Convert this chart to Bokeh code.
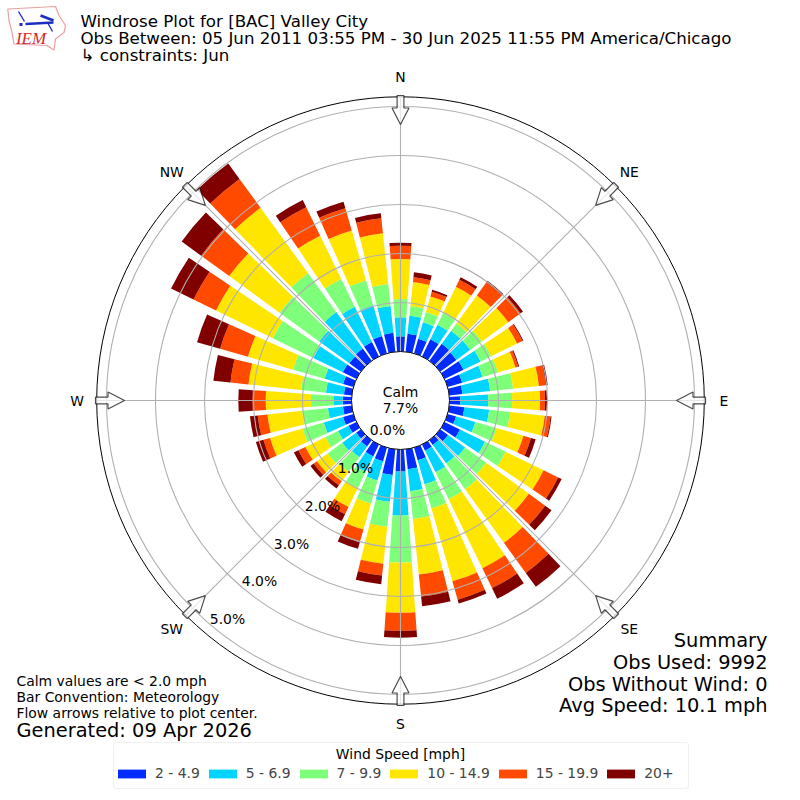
import numpy as np
from bokeh.plotting import figure
from bokeh.models import Legend, LegendItem, BoxAnnotation, ColumnDataSource
from bokeh.core.properties import value
from bokeh.embed import file_html
from bokeh.resources import INLINE

directions = list(range(0, 360, 10))
band_labels = ["2 - 4.9", "5 - 6.9", "7 - 9.9", "10 - 14.9", "15 - 19.9", "20+"]
band_colors = ["#002cff", "#00d4ff", "#7dff7a", "#ffe600", "#ff4a00", "#800000"]
pct_2_5 = [.31,.37,.31,.39,.43,.41,.43,.31,.27,.22,.31,.18,.35,.20,.12,.14,.27,.41,.45,.53,.29,.27,.16,.12,.18,.22,.18,.18,.16,.22,.31,.29,.31,.33,.37,.39]
pct_5_7 = [.39,.37,.35,.33,.33,.35,.39,.43,.57,.57,.51,.41,.57,.43,.47,.49,.51,.45,.90,.55,.41,.35,.27,.35,.24,.41,.31,.18,.37,.39,.67,.76,.92,.80,.65,.55]
pct_7_10 = [.37,.20,.22,.27,.18,.29,.24,.33,.47,.49,.43,.45,.47,.53,.65,.61,.51,.57,.96,.51,.49,.37,.37,.37,.29,.45,.53,.47,.51,.67,.92,1.0,.98,.63,.53,.45]
pct_10_15 = [.82,.49,.33,.59,.71,.67,.59,.37,.53,.57,.71,.57,.86,1.08,1.35,1.57,1.55,1.14,1.02,.76,.55,.43,.24,.27,.45,.69,.71,.92,1.08,.96,1.29,1.27,1.65,.98,1.06,1.04]
pct_15_20 = [.27,.10,.10,.16,.33,.31,.12,.06,.14,.10,.12,.16,.33,.41,.76,.45,.39,.45,.37,.24,.27,.16,.10,.08,.16,.14,.20,.27,.37,.59,.51,.71,.73,.65,.47,.31]
pct_20 = [.06,.10,.04,.06,.04,.06,.02,.02,.04,.04,.02,.10,.08,.16,.35,.24,.08,.20,.14,.18,.14,.16,.08,.08,.10,.16,.16,.29,.35,.49,.51,.49,.39,.16,.14,.10]
bands = [pct_2_5, pct_5_7, pct_7_10, pct_10_15, pct_15_20, pct_20]
compass_labels = ["N", "NE", "E", "SE", "S", "SW", "W", "NW"]
radial_ticks = [0, 1, 2, 3, 4, 5]
calm_pct = 7.7

# One percent of frequency is one data unit; the 0% ring sits at radius 1.
PX = 49.0
BASE = 1.0
RMAX = 6.2
W = 800
HALF = W / 2 / PX


def px(x, y):
    return (x - 400) / PX, (400 - y) / PX


p = figure(width=W, height=W, x_range=(-HALF, HALF), y_range=(-HALF, HALF),
           output_backend="svg", toolbar_location=None, min_border=0,
           background_fill_color="white", border_fill_color="white",
           outline_line_color=None)
p.axis.visible = False
p.grid.visible = False

# Bars
theta = 90 - np.array(directions, dtype=float)
half = 4.0
inner = np.full(len(directions), BASE)
items = []
for lab, col, vals in zip(band_labels, band_colors, bands):
    outer = inner + np.array(vals)
    src = ColumnDataSource(dict(r0=inner, r1=outer,
                                a0=np.radians(theta - half), a1=np.radians(theta + half)))
    r = p.annular_wedge(x=0, y=0, inner_radius="r0", outer_radius="r1",
                        start_angle="a0", end_angle="a1", source=src,
                        fill_color=col, line_color=None)
    items.append(LegendItem(label=lab, renderers=[r]))
    inner = outer

# Grid
GRID = "#b0b0b0"
for t in radial_ticks[1:]:
    p.circle(x=0, y=0, radius=BASE + t, fill_color=None, line_color=GRID, line_width=1.1)
ang = np.radians(90 - np.arange(0, 360, 45))
p.segment(x0=0, y0=0, x1=RMAX * np.cos(ang), y1=RMAX * np.sin(ang), line_color=GRID, line_width=1.1)

# Flow arrows
tail, neck, tip = 305.0 / PX, 292.5 / PX, 276.0 / PX
sw, hw = 3.4 / PX, 8.5 / PX
xs, ys = [], []
for a in ang:
    along = np.array([tail, neck, neck, tip, neck, neck, tail])
    across = np.array([sw, sw, hw, 0, -hw, -sw, -sw])
    xs.append(list(along * np.cos(a) - across * np.sin(a)))
    ys.append(list(along * np.sin(a) + across * np.cos(a)))

p.circle(x=0, y=0, radius=RMAX, fill_color=None, line_color="black", line_width=1.0)
p.patches(xs, ys, fill_color="white", fill_alpha=0.7, line_color="black", line_alpha=0.7, line_width=1.2)

# Centre disc
p.circle(x=0, y=0, radius=BASE, fill_color="white", line_color="black", line_width=1.0)


def put(x, y, s, size, align="left", color="black", font="DejaVu Sans", style="normal"):
    X, Y = px(x, y)
    p.text(x=[X], y=[Y], text=[s], text_font=value(font), text_font_size=f"{size}px",
           text_align=align, text_baseline="middle", text_color=color, text_font_style=style)


# Compass labels
for lab, a in zip(compass_labels, ang):
    X, Y = 323.5 / PX * np.cos(a), 323.5 / PX * np.sin(a)
    p.text(x=[X], y=[Y], text=[lab], text_font=value("DejaVu Sans"), text_font_size="13.9px",
           text_align="center", text_baseline="middle", text_color="black")

# Radial labels
for t, (lx, ly) in zip(radial_ticks, [(387, 429), (355, 467), (322, 505), (291, 543), (259, 580), (227, 618)]):
    put(lx, ly, f"{t:.1f}%", 13.9, "center")

put(400, 391, "Calm", 13.9, "center")
put(400, 407, f"{calm_pct}%", 13.9, "center")

# Titles
put(80, 21, "Windrose Plot for [BAC] Valley City", 16.66)
put(80, 38, "Obs Between: 05 Jun 2011 03:55 PM - 30 Jun 2025 11:55 PM America/Chicago", 16.66)
put(80, 55, " \u21b3 constraints: Jun", 16.66)

# Notes
put(16, 680, "Calm values are < 2.0 mph", 13.9)
put(16, 696, "Bar Convention: Meteorology", 13.9)
put(16, 712, "Flow arrows relative to plot center.", 13.9)
put(16, 730, "Generated: 09 Apr 2026", 19.4)
put(767, 640, "Summary", 19.4, "right")
put(767, 662, "Obs Used: 9992", 19.4, "right")
put(767, 684, "Obs Without Wind: 0", 19.4, "right")
put(767, 705, "Avg Speed: 10.1 mph", 19.4, "right")

# Logo
lx = [7.3, 55, 58.5, 65, 63.5, 55, 53.5, 46.5, 13.5, 11.5, 8.5]
ly = [8.5, 6, 15, 25, 32, 38.5, 49.5, 45, 43.5, 32, 20]
X, Y = zip(*[px(a, b) for a, b in zip(lx, ly)])
p.patch(list(X), list(Y), fill_color="white", line_color="#e8a0a0", line_width=1.2)
for (x0, y0, x1, y1, w) in [(25, 23.5, 53, 22, 2.6), (18, 11, 24, 21, 1.4),
                            (40, 15, 53, 20, 2.8), (47, 22, 52, 31, 1.4), (19, 24, 22, 24, 3)]:
    a0, b0 = px(x0, y0)
    a1, b1 = px(x1, y1)
    p.line([a0, a1], [b0, b1], line_color="#1c2fc0", line_width=w)
put(30.5, 38, "IEM", 17, "center", "#d62828", "Liberation Serif", "italic")

# Legend
a0, b0 = px(113, 788)
a1, b1 = px(688, 742)
p.add_layout(BoxAnnotation(left=a0, right=a1, bottom=b0, top=b1, fill_alpha=0,
                           line_color="#cccccc", line_width=1.1, border_radius=3))
leg = Legend(items=items, orientation="horizontal", location=(114, 17), margin=0, padding=2,
             spacing=5, label_standoff=6, glyph_width=35, glyph_height=11, label_height=20,
             label_text_font="DejaVu Sans", label_text_font_size="13.9px",
             background_fill_alpha=0, border_line_color=None)
p.add_layout(leg, "center")
put(400, 753, "Wind Speed [mph]", 13.9, "center")

open("out.html", "w").write(file_html(p, INLINE))
